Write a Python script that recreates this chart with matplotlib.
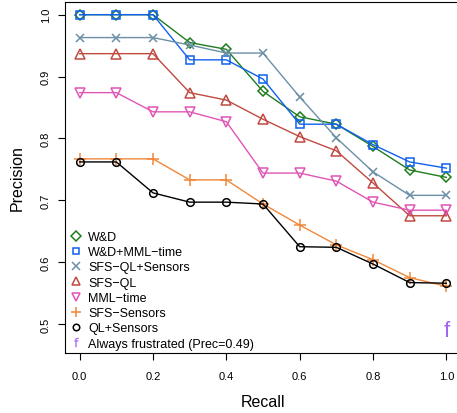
import matplotlib
matplotlib.use("Agg")
import matplotlib.pyplot as plt
from matplotlib.lines import Line2D

plt.rcParams['font.family'] = ['Liberation Sans', 'DejaVu Sans']

recall = [0.0, 0.1, 0.2, 0.3, 0.4, 0.5, 0.6, 0.7, 0.8, 0.9, 1.0]

wd = [1.0, 1.0, 1.0, 0.955, 0.944, 0.876, 0.835, 0.823, 0.787, 0.749, 0.737]
wd_mml = [1.0, 1.0, 1.0, 0.927, 0.927, 0.896, 0.823, 0.823, 0.790, 0.762, 0.752]
sfs_ql_sens = [0.963, 0.963, 0.963, 0.951, 0.938, 0.938, 0.867, 0.801, 0.746, 0.708, 0.708]
sfs_ql = [0.937, 0.937, 0.937, 0.874, 0.862, 0.831, 0.803, 0.780, 0.728, 0.675, 0.675]
mml_time = [0.874, 0.874, 0.843, 0.843, 0.827, 0.744, 0.744, 0.731, 0.697, 0.684, 0.684]
sfs_sens = [0.767, 0.767, 0.767, 0.733, 0.733, 0.694, 0.660, 0.628, 0.604, 0.575, 0.561]
ql_sens = [0.762, 0.762, 0.712, 0.697, 0.697, 0.694, 0.625, 0.624, 0.597, 0.567, 0.566]

frustrated_recall = 1.0
frustrated_prec = 0.49

labels = ['W&D', 'W&D+MML\u2212time', 'SFS\u2212QL+Sensors', 'SFS\u2212QL',
          'MML\u2212time', 'SFS\u2212Sensors', 'QL+Sensors']
series = [wd, wd_mml, sfs_ql_sens, sfs_ql, mml_time, sfs_sens, ql_sens]
colors = ['#1e7d1e', '#1060f0', '#6b8fa5', '#c04a40', '#e055b5', '#f0883a', '#000000']
markers = ['D', 's', 'x', '^', 'v', '+', 'o']
msizes = [5.5, 5.5, 6, 6.5, 6.5, 8, 5.5]
purple = '#a066f0'

fig = plt.figure(figsize=(4.57, 4.14), dpi=100)
ax = fig.add_axes([65 / 457, 1 - 353.5 / 414, 396 / 457, 350.5 / 414])

handles = []
for vals, lab, c, m, ms in zip(series, labels, colors, markers, msizes):
    ax.plot(recall, vals, color=c, lw=1.0, marker=m, ms=ms, mfc='none', mec=c, mew=1.1)
    handles.append(Line2D([], [], ls='none', marker=m, ms=ms * 0.85, mfc='none', mec=c, mew=1.1, label=lab))

ax.text(frustrated_recall, frustrated_prec, 'f', color=purple, fontsize=16,
        ha='center', va='center')
handles.append(Line2D([], [], ls='none', marker=r'$\mathsf{f}$', ms=6.5, color=purple,
                      mew=0.2, label='Always frustrated (Prec=0.49)'))

ax.set_xlim(-0.04, 1.04)
ax.set_ylim(0.454, 1.0205)
ax.set_xticks([0.0, 0.2, 0.4, 0.6, 0.8, 1.0])
ax.set_xticklabels(['0.0', '0.2', '0.4', '0.6', '0.8', '1.0'], fontsize=8)
ax.set_yticks([0.5, 0.6, 0.7, 0.8, 0.9, 1.0])
ax.set_yticklabels(['0.5', '0.6', '0.7', '0.8', '0.9', '1.0'], fontsize=8,
                   rotation=90, va='center')
ax.tick_params(direction='out', length=5, width=0.8)
ax.tick_params(axis='x', pad=8)
ax.tick_params(axis='y', pad=5)
for s in ax.spines.values():
    s.set_linewidth(0.8)

ax.set_xlabel('Recall', fontsize=11.5, labelpad=10)
ax.set_ylabel('Precision', fontsize=11.5, labelpad=12)

ax.legend(handles=handles, loc='upper left', bbox_to_anchor=(0.011, 0.347),
          frameon=False, fontsize=9, borderpad=0, borderaxespad=0,
          handlelength=1.0, handletextpad=0.5, labelspacing=0.26)

fig.savefig('out.png', dpi=100)
